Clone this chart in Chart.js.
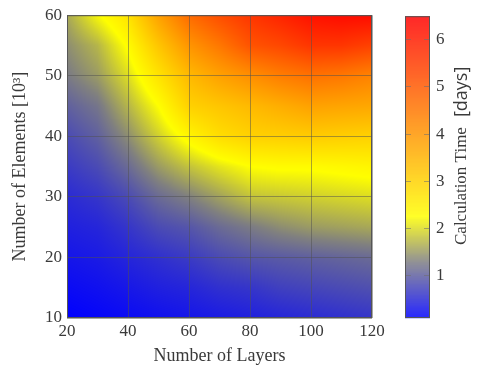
<!DOCTYPE html>
<html>
<head>
<meta charset="utf-8">
<style>
	body { margin: 0; background: #fff; }
	#main { position: absolute; left: 0; top: 0; }
	#cbar { position: absolute; left: 395px; top: 0; }
</style>
</head>
<body>
<canvas id="main" width="400" height="367"></canvas>
<canvas id="cbar" width="82" height="367"></canvas>

<script src="https://cdn.jsdelivr.net/npm/chart.js"></script>
<script>
	// number of layers (x) and number of elements in 10^3 (y)
	var layers = [20, 30, 40, 50, 60, 70, 80, 90, 100, 110, 120];
	var elements = [10, 15, 20, 25, 30, 35, 40, 45, 50, 55, 60];

	// calculation time in days, one row per elements value
	var calcTime = [
		[0.10, 0.15, 0.20, 0.25, 0.30, 0.35, 0.40, 0.45, 0.50, 0.55, 0.60], // 10
		[0.20, 0.25, 0.32, 0.40, 0.45, 0.55, 0.60, 0.70, 0.75, 0.80, 0.85], // 15
		[0.30, 0.35, 0.45, 0.55, 0.65, 0.80, 0.90, 0.95, 1.00, 1.05, 1.10], // 20
		[0.40, 0.45, 0.60, 0.80, 0.90, 1.10, 1.25, 1.40, 1.50, 1.55, 1.60], // 25
		[0.50, 0.60, 0.80, 1.10, 1.30, 1.55, 1.80, 1.85, 1.90, 1.95, 2.00], // 30
		[0.65, 0.80, 1.10, 1.50, 1.80, 2.05, 2.25, 2.30, 2.30, 2.35, 2.40], // 35
		[0.80, 1.00, 1.40, 1.90, 2.40, 2.80, 3.00, 3.05, 3.10, 3.05, 3.00], // 40
		[1.00, 1.20, 1.70, 2.25, 3.00, 3.20, 3.40, 3.60, 3.80, 3.75, 3.70], // 45
		[1.25, 1.50, 2.00, 2.70, 3.40, 3.80, 4.10, 4.40, 4.60, 4.50, 4.30], // 50
		[1.40, 1.70, 2.30, 3.20, 4.00, 4.50, 5.10, 5.30, 5.60, 5.60, 5.40], // 55
		[1.60, 2.20, 2.70, 3.80, 4.70, 5.20, 5.60, 5.90, 6.20, 6.30, 6.30]  // 60
	];

	var colorMin = 0.1;
	var colorMax = 6.5;
	var colorTicks = [1, 2, 3, 4, 5, 6];

	// colormap stops: value -> rgb
	var cmap = [
		[0.1, [0, 0, 255]],
		[1.3, [128, 128, 128]],
		[2.25, [255, 255, 0]],
		[6.5, [255, 0, 0]]
	];

	function colorFor(v) {
		if (v <= cmap[0][0]) return cmap[0][1];
		for (var i = 1; i < cmap.length; i++) {
			if (v <= cmap[i][0]) {
				var a = cmap[i - 1], b = cmap[i];
				var t = (v - a[0]) / (b[0] - a[0]);
				return [
					a[1][0] + (b[1][0] - a[1][0]) * t,
					a[1][1] + (b[1][1] - a[1][1]) * t,
					a[1][2] + (b[1][2] - a[1][2]) * t
				];
			}
		}
		return cmap[cmap.length - 1][1];
	}

	function findCell(arr, v) {
		var i = 0;
		while (i < arr.length - 2 && v > arr[i + 1]) i++;
		var t = (v - arr[i]) / (arr[i + 1] - arr[i]);
		return [i, Math.max(0, Math.min(1, t))];
	}

	// bilinear value at (x, y) from the grid
	function valueAt(x, y) {
		var cx = findCell(layers, x), cy = findCell(elements, y);
		var i = cx[0], tx = cx[1], j = cy[0], ty = cy[1];
		var v00 = calcTime[j][i], v10 = calcTime[j][i + 1];
		var v01 = calcTime[j + 1][i], v11 = calcTime[j + 1][i + 1];
		return (v00 * (1 - tx) + v10 * tx) * (1 - ty) + (v01 * (1 - tx) + v11 * tx) * ty;
	}

	var points = [];
	elements.forEach(function (e, j) {
		layers.forEach(function (l, i) {
			points.push({ x: l, y: e, v: calcTime[j][i] });
		});
	});

	var serif = "'Liberation Serif', serif";
	var textColor = '#3a3a3a';

	// shaded surface, drawn below the grid
	var surfacePlugin = {
		id: 'surface',
		beforeDatasetsDraw: function (chart) {
			var a = chart.chartArea;
			var w = Math.round(a.right - a.left), h = Math.round(a.bottom - a.top);
			var off = document.createElement('canvas');
			off.width = w; off.height = h;
			var octx = off.getContext('2d');
			var img = octx.createImageData(w, h);
			var sx = chart.scales.x, sy = chart.scales.y;
			for (var py = 0; py < h; py++) {
				var yv = sy.getValueForPixel(a.top + py + 0.5);
				for (var px = 0; px < w; px++) {
					var xv = sx.getValueForPixel(a.left + px + 0.5);
					var c = colorFor(valueAt(xv, yv));
					var k = (py * w + px) * 4;
					img.data[k] = c[0]; img.data[k + 1] = c[1]; img.data[k + 2] = c[2]; img.data[k + 3] = 255;
				}
			}
			octx.putImageData(img, 0, 0);
			chart.ctx.drawImage(off, a.left, a.top, w, h);
		}
	};

	var framePlugin = {
		id: 'frame',
		afterDraw: function (chart) {
			var a = chart.chartArea, ctx = chart.ctx;
			ctx.save();
			ctx.strokeStyle = '#555';
			ctx.lineWidth = 1;
			ctx.strokeRect(a.left + 0.5, a.top + 0.5, a.right - a.left - 1, a.bottom - a.top - 1);
			ctx.restore();
		}
	};

	new Chart(document.getElementById('main'), {
		type: 'scatter',
		data: {
			datasets: [{
				label: 'Calculation Time',
				data: points,
				pointRadius: 0,
				pointHoverRadius: 0
			}]
		},
		options: {
			responsive: false,
			animation: false,
			events: [],
			layout: { padding: { left: 9, top: 14, right: 28, bottom: 0 } },
			plugins: { legend: { display: false }, tooltip: { enabled: false } },
			scales: {
				x: {
					type: 'linear',
					min: 20, max: 120,
					afterFit: function (s) { s.height = 49; },
					ticks: { stepSize: 20, color: textColor, padding: 3, font: { family: serif, size: 17 } },
					grid: { z: 1, color: 'rgba(80,80,80,0.5)', drawTicks: false },
					border: { display: false },
					title: { display: true, text: 'Number of Layers', color: textColor, padding: { top: 3, bottom: 0 }, font: { family: serif, size: 18 } }
				},
				y: {
					type: 'linear',
					min: 10, max: 60,
					afterFit: function (s) { s.width = 58; },
					ticks: { stepSize: 10, color: textColor, padding: 5, font: { family: serif, size: 17 } },
					grid: { z: 1, color: 'rgba(80,80,80,0.5)', drawTicks: false },
					border: { display: false },
					title: { display: true, text: 'Number of Elements [10³]', color: textColor, padding: { top: 0, bottom: 4 }, font: { family: serif, size: 18 } }
				}
			}
		},
		plugins: [surfacePlugin, framePlugin]
	});

	// colour bar
	var barPlugin = {
		id: 'colorbar',
		beforeDatasetsDraw: function (chart) {
			var a = chart.chartArea, ctx = chart.ctx, sy = chart.scales.y;
			for (var py = a.top; py < a.bottom; py++) {
				var c = colorFor(sy.getValueForPixel(py + 0.5));
				ctx.fillStyle = 'rgb(' + Math.round(c[0]) + ',' + Math.round(c[1]) + ',' + Math.round(c[2]) + ')';
				ctx.fillRect(a.left, py, a.right - a.left, 1);
			}
		},
		afterDraw: function (chart) {
			var ctx = chart.ctx;
			ctx.save();
			ctx.translate(67, 245);
			ctx.rotate(-Math.PI / 2);
			ctx.fillStyle = textColor;
			ctx.textBaseline = 'middle';
			ctx.textAlign = 'left';
			ctx.font = '17px ' + serif;
			ctx.fillText('Calculation Time', 0, 0);
			var w = ctx.measureText('Calculation Time').width;
			ctx.font = "18px 'Open Sans', sans-serif";
			ctx.fillText('[days]', w + 10, 0);
			ctx.restore();
		}
	};

	new Chart(document.getElementById('cbar'), {
		type: 'scatter',
		data: { datasets: [{ data: [] }] },
		options: {
			responsive: false,
			animation: false,
			events: [],
			layout: { padding: { left: 10, top: 14, right: 0, bottom: 49 } },
			plugins: { legend: { display: false }, tooltip: { enabled: false } },
			scales: {
				x: { display: false, min: 0, max: 1 },
				y: {
					type: 'linear',
					position: 'right',
					min: colorMin, max: colorMax,
					afterFit: function (s) { s.width = 47; },
					afterBuildTicks: function (s) { s.ticks = colorTicks.map(function (v) { return { value: v }; }); },
					ticks: { color: textColor, padding: 6, font: { family: serif, size: 17 } },
					grid: { z: 1, color: 'rgba(110,110,110,0.55)', drawTicks: false },
					border: { display: false, dash: [6, 13] }
				}
			}
		},
		plugins: [barPlugin, framePlugin]
	});
</script>
</body>
</html>
